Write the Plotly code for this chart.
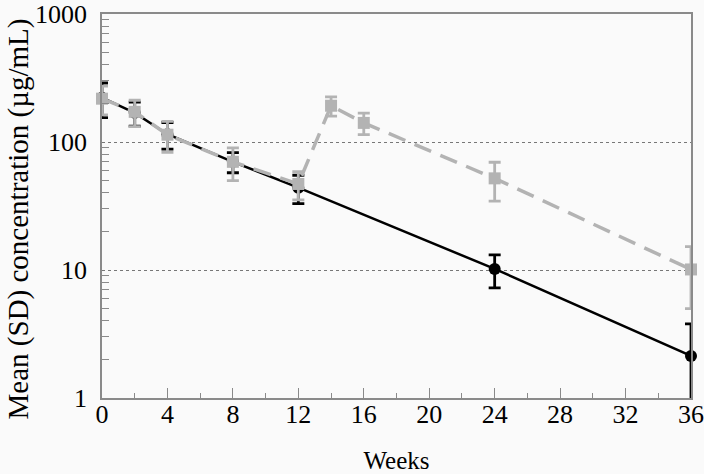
import plotly.graph_objects as go

# Series A (black, solid, circles)
weeks_a = [0, 2, 4, 8, 12, 24, 36]
mean_a = [222, 169, 115, 70, 44, 10.2, 2.13]
sd_a = [67, 36, 27, 12.5, 11, 2.95, 1.66]

# Series B (grey, dashed, squares)
weeks_b = [0, 2, 4, 8, 12, 14, 16, 24, 36]
mean_b = [218, 172, 114, 70, 47, 192, 141, 52, 10.1]
sd_b = [55, 40, 31, 20, 11.7, 33, 27, 17.5, 5.1]

x_ticks = [0, 4, 8, 12, 16, 20, 24, 28, 32, 36]
y_ticks = [1, 10, 100, 1000]
y_ticktext = ["1", "10", "100", "1000"]
y_minor_ticks = [m * d for d in (1, 10, 100) for m in range(2, 10)]

x_title = "Weeks"
y_title = "Mean (SD) concentration (µg/mL)"

FONT = "Liberation Serif, Times New Roman, Times, serif"
BLACK = "#000000"
GREY = "#b3b3b3"
FRAME = "#8a8a8a"
BG = "#fafafa"

fig = go.Figure()

# lines + error bars (clipped)
fig.add_trace(go.Scatter(
    x=weeks_a, y=mean_a, mode="lines",
    line=dict(color=BLACK, width=2.5),
    error_y=dict(type="data", array=sd_a, color=BLACK, thickness=2.8, width=6),
    cliponaxis=True, showlegend=False, hoverinfo="skip"))
fig.add_trace(go.Scatter(
    x=weeks_a, y=mean_a, mode="markers",
    marker=dict(symbol="circle", size=12, color=BLACK),
    cliponaxis=False, showlegend=False))

fig.add_trace(go.Scatter(
    x=weeks_b, y=mean_b, mode="lines",
    line=dict(color=GREY, width=3.5, dash="18px,10px"),
    error_y=dict(type="data", array=sd_b, color=GREY, thickness=2.8, width=6),
    cliponaxis=True, showlegend=False, hoverinfo="skip"))
fig.add_trace(go.Scatter(
    x=weeks_b, y=mean_b, mode="markers",
    marker=dict(symbol="square", size=12, color=GREY),
    cliponaxis=False, showlegend=False))

fig.update_layout(
    width=704, height=474,
    margin=dict(l=102, r=13, t=14, b=76),
    paper_bgcolor=BG, plot_bgcolor=BG,
    font=dict(family=FONT, size=25, color="#000000"),
    showlegend=False,
)

fig.update_xaxes(
    range=[0, 36], automargin=False,
    tickvals=x_ticks,
    ticks="inside", ticklen=10, tickwidth=1, tickcolor=FRAME,
    minor=dict(dtick=2, ticks="inside", ticklen=5, tickwidth=1, tickcolor=FRAME, showgrid=False),
    showline=True, linecolor=FRAME, linewidth=1.5, mirror=True,
    showgrid=False, zeroline=False,
    ticklabelstandoff=-8,
    tickfont=dict(family=FONT, size=26),
    title=dict(text=x_title, font=dict(family=FONT, size=25), standoff=28),
)

fig.update_yaxes(
    type="log", range=[0, 3], automargin=False,
    tickvals=y_ticks, ticktext=y_ticktext,
    ticks="inside", ticklen=0, tickcolor=FRAME,
    minor=dict(tickvals=y_minor_ticks, ticks="inside", ticklen=7, tickwidth=1,
               tickcolor=FRAME, showgrid=False),
    showline=True, linecolor=FRAME, linewidth=1.5, mirror=True,
    showgrid=True, gridcolor="#777777", gridwidth=1, griddash="dot",
    zeroline=False,
    ticklabelstandoff=8,
    tickfont=dict(family=FONT, size=26),
)

fig.add_annotation(
    text=y_title, textangle=-90,
    xref="paper", yref="paper", x=-0.142, y=0.466,
    xanchor="center", yanchor="middle", showarrow=False,
    font=dict(family=FONT, size=29, color="#000000"),
)

fig.write_html(
    "out.html",
    config={"displayModeBar": False},
    post_script="document.body.style.margin='0';document.body.style.padding='0';"
                "document.body.style.overflow='hidden';document.body.style.background='#fafafa';",
)
